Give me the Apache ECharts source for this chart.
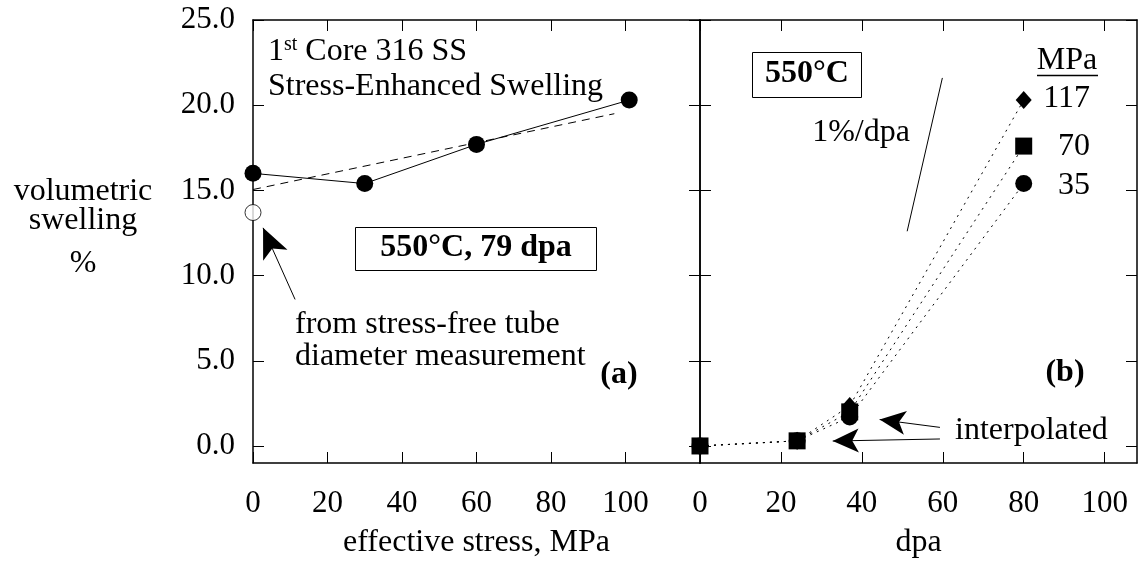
<!DOCTYPE html>
<html lang="en">
<head>
    <meta charset="UTF-8">
    <title>stress-enhanced swelling</title>
    <script type="text/javascript" src="https://cdn.jsdelivr.net/npm/echarts@6/dist/echarts.min.js"></script>
    <style>
        html, body { margin: 0; padding: 0; background: #fff; }
    </style>
</head>
<body>
    <div id="main" style="width: 1138px;height:564px;"></div>
    <script type="text/javascript">
    // panel (a): swelling vs effective stress
    let stressX = [0, 30, 60, 101];
    let swellA = [16.0, 15.4, 17.7, 20.3];
    let fitX = [0, 97];
    let fitY = [15.05, 19.5];
    let freeX = [0];
    let freeY = [13.7];

    // panel (b): swelling vs dpa, by stress level
    let dpaX = [0, 24, 37, 80];
    let swell117 = [0, 0.3, 2.35, 20.3];
    let swell70 = [0, 0.3, 2.0, 17.6];
    let swell35 = [0, 0.3, 1.7, 15.4];
    let slopeX = [51.2, 59.9];
    let slopeY = [12.6, 21.6];

    let yTicks = [0, 5, 10, 15, 20, 25];
    let xTicksA = [0, 20, 40, 60, 80, 100];
    let xTicksB = [0, 20, 40, 60, 80, 100];

    let font = 'Liberation Serif';
    let black = '#000';

    let myChart = echarts.init(document.getElementById('main'));

    function pairs(xs, ys) {
        return xs.map(function (x, i) { return [x, ys[i]]; });
    }

    function xAxisOf(grid, max, ticks, pos, title) {
        return {
            type: 'value', gridIndex: grid, position: pos, min: 0, max: max,
            name: title || '', nameLocation: 'middle', nameGap: 64,
            nameTextStyle: { fontFamily: font, fontSize: 32, color: black },
            axisLine: { show: true, onZero: false, lineStyle: { color: black, width: 1.5 } },
            axisTick: { show: true, inside: true, length: 11, customValues: ticks, lineStyle: { color: black } },
            axisLabel: {
                show: pos === 'bottom', customValues: ticks, margin: 25,
                fontFamily: font, fontSize: 31, color: black
            },
            splitLine: { show: false }
        };
    }

    function yAxisOf(grid, pos, labels) {
        return {
            type: 'value', gridIndex: grid, position: pos, min: -1, max: 25,
            axisLine: { show: true, onZero: false, lineStyle: { color: black, width: 1.5 } },
            axisTick: { show: true, inside: true, length: 11, customValues: yTicks, lineStyle: { color: black } },
            axisLabel: {
                show: labels, customValues: yTicks, margin: 18,
                fontFamily: font, fontSize: 31, color: black,
                formatter: function (v) { return v.toFixed(1); }
            },
            splitLine: { show: false }
        };
    }

    function arrowLine(from, to) {
        return [{ coord: from }, { coord: to }];
    }

    let txt = function (x, y, text, opt) {
        return {
            type: 'text', x: x, y: y, z: 100,
            style: Object.assign({
                text: text, fontFamily: font, fontSize: 32, fill: black,
                align: 'left', verticalAlign: 'middle'
            }, opt || {})
        };
    };

    let option = {
        animation: false,
        grid: [
            { left: 253, top: 20, width: 447, height: 445 },
            { left: 700, top: 20, width: 437, height: 445 }
        ],
        xAxis: [
            xAxisOf(0, 120, xTicksA, 'bottom', 'effective stress, MPa'),
            xAxisOf(0, 120, xTicksA, 'top'),
            xAxisOf(1, 108, xTicksB, 'bottom', 'dpa'),
            xAxisOf(1, 108, xTicksB, 'top')
        ],
        yAxis: [
            yAxisOf(0, 'left', true),
            yAxisOf(0, 'right', false),
            yAxisOf(1, 'left', false),
            yAxisOf(1, 'right', false)
        ],
        series: [
            {
                name: 'fit', type: 'line', xAxisIndex: 0, yAxisIndex: 0,
                data: pairs(fitX, fitY), symbol: 'none',
                lineStyle: { color: black, width: 1, type: [8, 6] }
            },
            {
                name: 'stress', type: 'line', xAxisIndex: 0, yAxisIndex: 0,
                data: pairs(stressX, swellA), symbol: 'circle', symbolSize: 17, clip: false,
                itemStyle: { color: black }, lineStyle: { color: black, width: 1 }
            },
            {
                name: 'stress-free', type: 'scatter', xAxisIndex: 0, yAxisIndex: 0,
                data: pairs(freeX, freeY), symbol: 'circle', symbolSize: 16, clip: false,
                itemStyle: { color: '#fff', borderColor: black, borderWidth: 1 },
                markLine: {
                    silent: true, symbol: ['none', 'arrow'], symbolSize: [20, 30],
                    label: { show: false },
                    lineStyle: { color: black, width: 1, type: 'solid' },
                    data: [arrowLine([11.3, 8.6], [2.7, 12.8])]
                }
            },
            {
                name: '117', type: 'line', xAxisIndex: 2, yAxisIndex: 2,
                data: pairs(dpaX, swell117), symbol: 'diamond', symbolSize: [16, 18], clip: false,
                itemStyle: { color: black }, lineStyle: { color: black, width: 1, type: [2, 5] }
            },
            {
                name: '35', type: 'line', xAxisIndex: 2, yAxisIndex: 2,
                data: pairs(dpaX, swell35), symbol: 'circle', symbolSize: 17, clip: false,
                itemStyle: { color: black }, lineStyle: { color: black, width: 1, type: [2, 5] }
            },
            {
                name: '70', type: 'line', xAxisIndex: 2, yAxisIndex: 2, z: 5,
                data: pairs(dpaX, swell70), symbol: 'rect', symbolSize: 17, clip: false,
                itemStyle: { color: black }, lineStyle: { color: black, width: 1, type: [2, 5] },
                markLine: {
                    silent: true, symbol: ['none', 'arrow'], symbolSize: [18, 26],
                    label: { show: false },
                    lineStyle: { color: black, width: 1, type: 'solid' },
                    data: [
                        arrowLine([59.3, 1.09], [44.4, 1.55]),
                        arrowLine([59.3, 0.41], [32.8, 0.29])
                    ]
                }
            },
            {
                name: '1%/dpa', type: 'line', xAxisIndex: 2, yAxisIndex: 2,
                data: pairs(slopeX, slopeY), symbol: 'none',
                lineStyle: { color: black, width: 1 }
            }
        ],
        graphic: [
            // y axis title
            txt(83, 192, 'volumetric', { align: 'center' }),
            txt(83, 221, 'swelling', { align: 'center' }),
            txt(83, 264, '%', { align: 'center' }),
            // panel (a) notes
            {
                type: 'text', x: 268, y: 52, z: 100,
                style: {
                    text: '1{sup|st} Core 316 SS',
                    fontFamily: font, fontSize: 32, fill: black, verticalAlign: 'middle',
                    rich: { sup: { fontFamily: font, fontSize: 20, fill: black, verticalAlign: 'top', padding: [0, 0, 14, 0] } }
                }
            },
            txt(268, 87, 'Stress-Enhanced Swelling'),
            {
                type: 'rect', z: 99,
                shape: { x: 355.5, y: 227.5, width: 241, height: 43 },
                style: { fill: '#fff', stroke: black, lineWidth: 1 }
            },
            txt(476, 248, '550°C, 79 dpa', { align: 'center', fontWeight: 'bold' }),
            txt(295, 325, 'from stress-free tube'),
            txt(295, 357, 'diameter measurement'),
            txt(619, 375, '(a)', { align: 'center', fontWeight: 'bold' }),
            // panel (b) notes
            {
                type: 'rect', z: 99,
                shape: { x: 752.5, y: 52.5, width: 109, height: 45 },
                style: { fill: '#fff', stroke: black, lineWidth: 1 }
            },
            txt(807, 74, '550°C', { align: 'center', fontWeight: 'bold' }),
            txt(861, 133, '1%/dpa', { align: 'center' }),
            txt(1067, 61, 'MPa', { align: 'center' }),
            {
                type: 'line', z: 100,
                shape: { x1: 1037, y1: 75.5, x2: 1098, y2: 75.5 },
                style: { stroke: black, lineWidth: 1.5 }
            },
            txt(1090, 99, '117', { align: 'right' }),
            txt(1090, 147, '70', { align: 'right' }),
            txt(1090, 186, '35', { align: 'right' }),
            txt(1065, 373, '(b)', { align: 'center', fontWeight: 'bold' }),
            txt(955, 431, 'interpolated')
        ]
    };

    myChart.setOption(option);
    </script>
</body>
</html>
